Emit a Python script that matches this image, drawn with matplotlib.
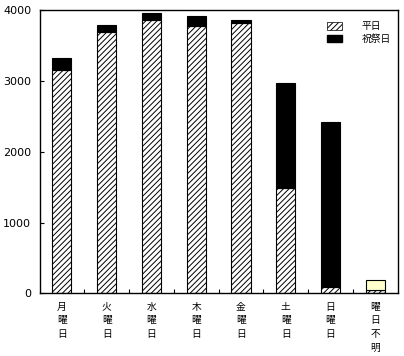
import matplotlib
matplotlib.use("Agg")
import matplotlib.pyplot as plt
from matplotlib.patches import Patch
import numpy as np

plt.rcParams['font.family'] = ['Noto Sans CJK JP', 'DejaVu Sans']
plt.rcParams['hatch.linewidth'] = 0.7

categories = ['月\n曜\n日', '火\n曜\n日', '水\n曜\n日', '木\n曜\n日', '金\n曜\n日', '土\n曜\n日', '日\n曜\n日', '曜\n日\n不\n明']
weekday = [3151, 3689, 3868, 3774, 3826, 1486, 85, 40]
holiday = [179, 99, 99, 151, 32, 1486, 2330, 0]
unknown = [0, 0, 0, 0, 0, 0, 0, 144]
series_names = ['平日', '祝祭日']
yticks = [0, 1000, 2000, 3000, 4000]

fig = plt.figure(figsize=(4.04, 3.56), dpi=100)
ax = fig.add_axes([39.5/404, 1-293.3/356, (397.7-39.5)/404, (293.3-10.3)/356])

x = np.arange(len(categories))
w = 0.425
weekday = np.array(weekday); holiday = np.array(holiday); unknown = np.array(unknown)
ax.bar(x, weekday, w, color='white', edgecolor='black', hatch='//////', linewidth=0.8)
ax.bar(x, holiday, w, bottom=weekday, color='black', edgecolor='black', linewidth=0.8)
mask = unknown > 0
ax.bar(x[mask], unknown[mask], w, bottom=(weekday+holiday)[mask], color='#FFFFCC', edgecolor='black', linewidth=0.8)

ax.set_xlim(-0.5, len(categories)-0.5)
ax.set_ylim(0, 4000)
ax.set_yticks(yticks)
ax.set_yticklabels([str(v) for v in yticks], fontsize=8, family=['DejaVu Sans'])
ax.tick_params(axis='y', direction='in', length=3, width=0.8, pad=6)
ax.set_xticks(x)
ax.set_xticklabels(categories, fontsize=7, linespacing=1.45, va='top')
ax.tick_params(axis='x', which='major', length=0, pad=6)
ax.set_xticks(np.arange(0.5, len(categories)-1, 1), minor=True)
ax.tick_params(axis='x', which='minor', direction='in', length=3, width=0.8)
for s in ax.spines.values():
    s.set_linewidth(1.0)

handles = [Patch(facecolor='white', edgecolor='black', hatch='//////', linewidth=0.5),
           Patch(facecolor='black', edgecolor='black')]
ax.legend(handles, series_names, loc='upper right', bbox_to_anchor=(1.0, 0.985), frameon=False,
          fontsize=7, handlelength=1.6, handleheight=0.8, handletextpad=2.0, labelspacing=0.25,
          borderaxespad=0.3)

fig.savefig('out.png', dpi=100)
